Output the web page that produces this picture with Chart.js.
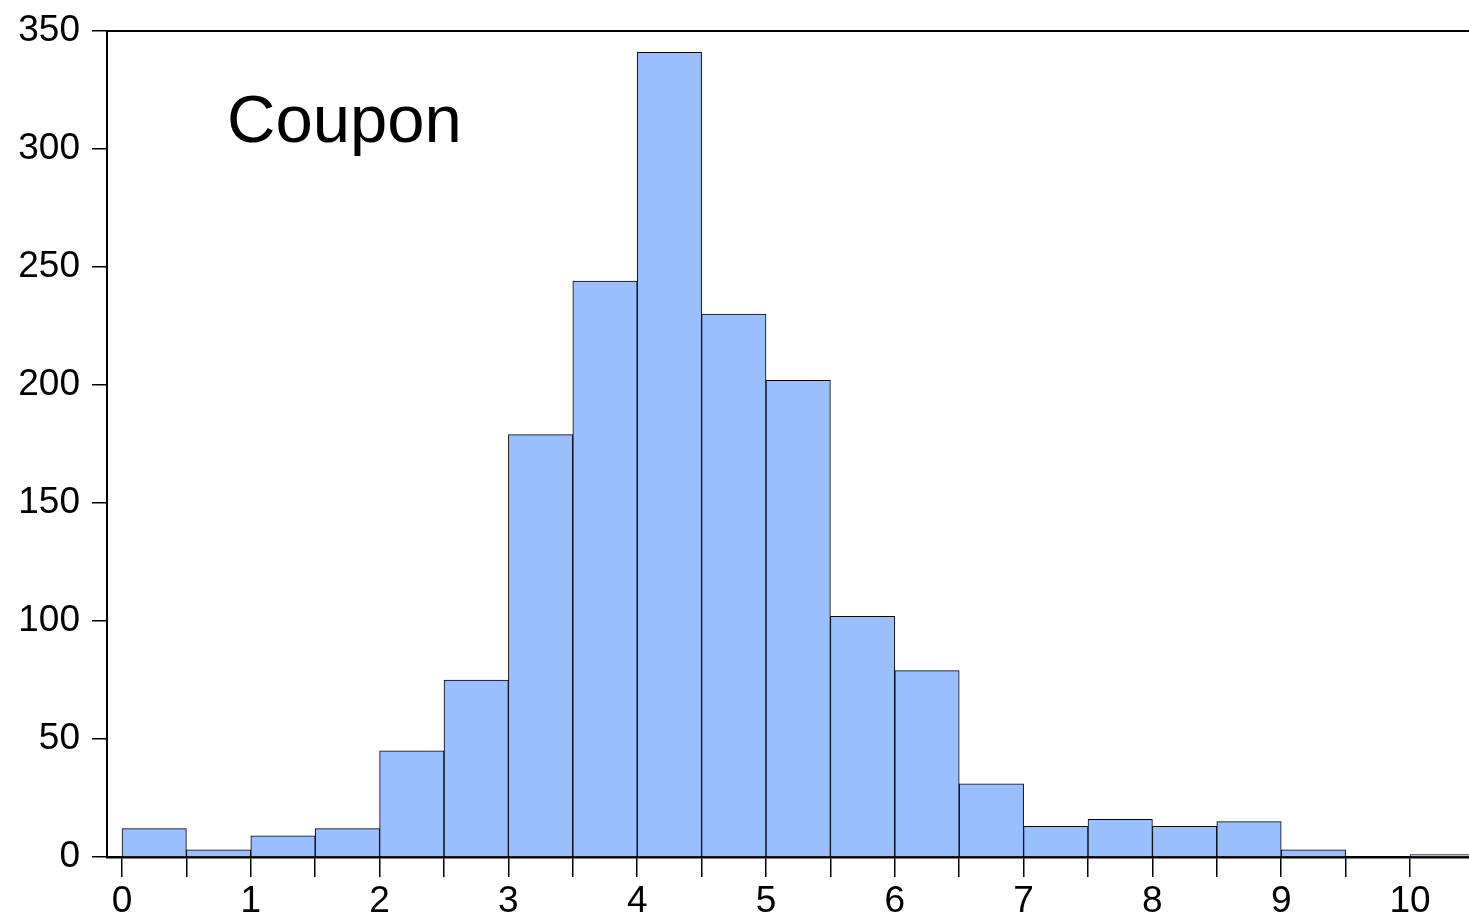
<!DOCTYPE html>
<html>
<head>
<meta charset="utf-8">
<script src="https://cdn.jsdelivr.net/npm/chart.js@4.4.1/dist/chart.umd.min.js"></script>
<style>
  html, body { margin: 0; padding: 0; background: #ffffff; }
  #wrap { width: 1469px; height: 917px; }
</style>
</head>
<body>
<div id="wrap"><canvas id="c" width="1469" height="917"></canvas></div>
<script>
// Histogram of Coupon: bin lower edges (width 0.5) and counts
const binStarts = [0, 0.5, 1, 1.5, 2, 2.5, 3, 3.5, 4, 4.5, 5, 5.5, 6, 6.5, 7, 7.5, 8, 8.5, 9, 9.5, 10];
const binWidth = 0.5;
const counts = [12, 3, 9, 12, 45, 75, 179, 244, 341, 230, 202, 102, 79, 31, 13, 16, 13, 15, 3, 0, 1];
const xTickValues = [0, 0.5, 1, 1.5, 2, 2.5, 3, 3.5, 4, 4.5, 5, 5.5, 6, 6.5, 7, 7.5, 8, 8.5, 9, 9.5, 10];
const xTickLabels = ['0', '', '1', '', '2', '', '3', '', '4', '', '5', '', '6', '', '7', '', '8', '', '9', '', '10'];
const yTickValues = [0, 50, 100, 150, 200, 250, 300, 350];
const seriesName = 'Coupon';

const FONT = '"Liberation Sans", Arial, sans-serif';

const frameTop = {
  id: 'frameTop',
  afterDraw(chart) {
    const { ctx, chartArea } = chart;
    ctx.save();
    ctx.strokeStyle = '#000';
    ctx.lineWidth = 2;
    ctx.beginPath();
    ctx.moveTo(chartArea.left - 1, chartArea.top);
    ctx.lineTo(chartArea.right, chartArea.top);
    ctx.stroke();
    ctx.fillStyle = '#000';
    ctx.font = '67px ' + FONT;
    ctx.textBaseline = 'middle';
    ctx.textAlign = 'left';
    ctx.fillText(seriesName, 227, 124);
    ctx.restore();
  }
};

new Chart(document.getElementById('c'), {
  type: 'bar',
  data: {
    datasets: [{
      label: seriesName,
      data: binStarts.map((s, i) => ({ x: s + binWidth / 2, y: counts[i] })),
      backgroundColor: 'rgb(153,191,255)',
      borderColor: '#000',
      borderWidth: 1,
      borderSkipped: 'start',
      barPercentage: 1,
      categoryPercentage: 1
    }]
  },
  plugins: [frameTop],
  options: {
    responsive: false,
    animation: false,
    devicePixelRatio: 1,
    layout: { padding: { top: 31, right: 0, bottom: 0, left: 0 } },
    plugins: { legend: { display: false }, tooltip: { enabled: false } },
    scales: {
      x: {
        type: 'linear',
        offset: false,
        min: -0.1165,
        max: 10.458,
        afterBuildTicks(scale) { scale.ticks = xTickValues.map(v => ({ value: v })); },
        afterFit(scale) { scale.height = 60; scale.paddingLeft = 0; scale.paddingRight = 0; },
        grid: { offset: false, drawOnChartArea: false, drawTicks: true, tickLength: 20, color: '#000', lineWidth: 1.5 },
        border: { display: true, color: '#000', width: 2.5 },
        ticks: {
          autoSkip: false,
          maxRotation: 0,
          padding: 3,
          color: '#000',
          font: { family: FONT, size: 37 },
          callback(v) { const i = xTickValues.indexOf(v); return i >= 0 ? xTickLabels[i] : ''; }
        }
      },
      y: {
        min: 0,
        max: 350,
        afterBuildTicks(scale) { scale.ticks = yTickValues.map(v => ({ value: v })); },
        afterFit(scale) { scale.width = 107; scale.paddingTop = 0; scale.paddingBottom = 0; },
        grid: { drawOnChartArea: false, drawTicks: true, tickLength: 15, color: '#000', lineWidth: 1.5 },
        border: { display: true, color: '#000', width: 2 },
        ticks: {
          padding: 12,
          color: '#000',
          font: { family: FONT, size: 37 },
          callback(v) { return String(v); }
        }
      }
    }
  }
});
</script>
</body>
</html>
